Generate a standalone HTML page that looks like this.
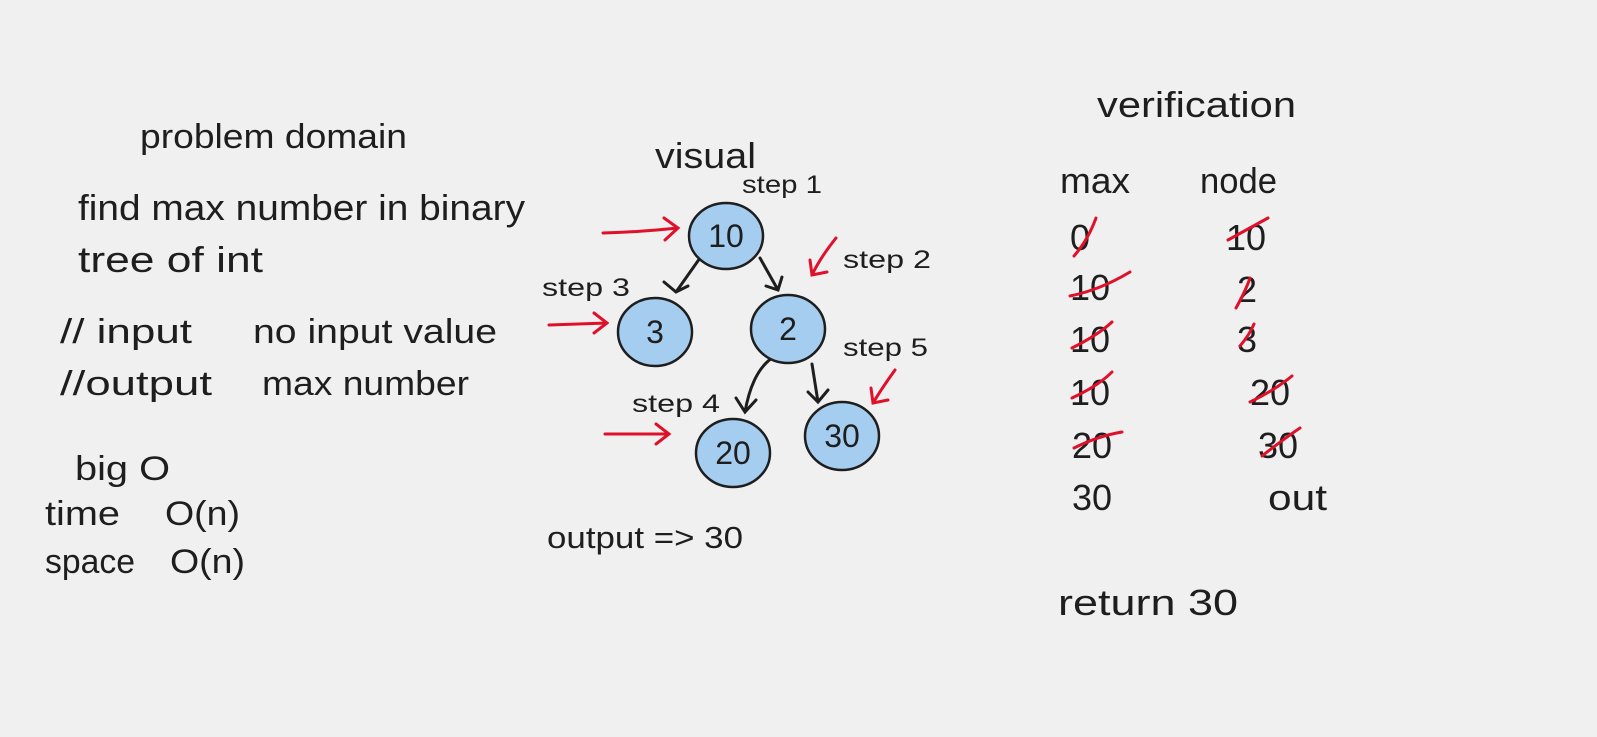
<!DOCTYPE html>
<html><head><meta charset="utf-8"><style>
html,body{margin:0;padding:0;background:#f0f0f0;}
svg{display:block}
text{font-family:"Liberation Sans",sans-serif;fill:#1e1e1e;}
</style></head><body>
<svg width="1597" height="737" viewBox="0 0 1597 737">
<rect width="1597" height="737" fill="#f0f0f0"/>
<g font-size="34" lengthAdjust="spacingAndGlyphs">
<text x="140" y="148" textLength="267" lengthAdjust="spacingAndGlyphs">problem domain</text>
<text x="78" y="220" font-size="36" textLength="447" lengthAdjust="spacingAndGlyphs">find max number in binary</text>
<text x="78" y="272" font-size="36" textLength="185" lengthAdjust="spacingAndGlyphs">tree of int</text>
<text x="60" y="343" textLength="132" lengthAdjust="spacingAndGlyphs">// input</text>
<text x="253" y="343" textLength="244" lengthAdjust="spacingAndGlyphs">no input value</text>
<text x="60" y="395" textLength="152" lengthAdjust="spacingAndGlyphs">//output</text>
<text x="262" y="395" textLength="207" lengthAdjust="spacingAndGlyphs">max number</text>
<text x="75" y="480" textLength="95" lengthAdjust="spacingAndGlyphs">big O</text>
<text x="45" y="525" textLength="75" lengthAdjust="spacingAndGlyphs">time</text>
<text x="165" y="525" textLength="75" lengthAdjust="spacingAndGlyphs">O(n)</text>
<text x="45" y="573" textLength="90" lengthAdjust="spacingAndGlyphs">space</text>
<text x="170" y="573" textLength="75" lengthAdjust="spacingAndGlyphs">O(n)</text>
</g>
<g>
<text x="655" y="168" font-size="36" textLength="101" lengthAdjust="spacingAndGlyphs">visual</text>
<g font-size="25">
<text x="742" y="193" textLength="80" lengthAdjust="spacingAndGlyphs">step 1</text>
<text x="843" y="268" textLength="88" lengthAdjust="spacingAndGlyphs">step 2</text>
<text x="542" y="296" textLength="88" lengthAdjust="spacingAndGlyphs">step 3</text>
<text x="843" y="356" textLength="85" lengthAdjust="spacingAndGlyphs">step 5</text>
<text x="632" y="412" textLength="88" lengthAdjust="spacingAndGlyphs">step 4</text>
</g>
<g stroke="#1e1e1e" stroke-width="3" fill="none" stroke-linecap="round">
<path d="M700 258 L676 292 M664 282 L676 292 L688 286"/>
<path d="M760 258 L778 290 M766 286 L778 290 L782 277"/>
<path d="M772 358 Q752 372 745 412 M736 398 L745 412 L756 400"/>
<path d="M812 364 L818 402 M808 392 L818 402 L828 390"/>
</g>
<g fill="#a5cdf0" stroke="#1e1e1e" stroke-width="2.5">
<ellipse cx="726" cy="236" rx="37" ry="33"/>
<ellipse cx="655" cy="332" rx="37" ry="34"/>
<ellipse cx="788" cy="329" rx="37" ry="34"/>
<ellipse cx="733" cy="453" rx="37" ry="34"/>
<ellipse cx="842" cy="436" rx="37" ry="34"/>
</g>
<g font-size="32" text-anchor="middle">
<text x="726" y="247">10</text>
<text x="655" y="343">3</text>
<text x="788" y="340">2</text>
<text x="733" y="464">20</text>
<text x="842" y="447">30</text>
</g>
<g stroke="#e0102a" stroke-width="3" fill="none" stroke-linecap="round">
<path d="M603 233 Q640 232 678 228 M664 218 L678 228 L665 240"/>
<path d="M836 238 Q820 258 812 275 M810 260 L812 275 L827 272"/>
<path d="M549 325 L607 323 M594 313 L607 323 L594 333"/>
<path d="M605 434 L669 434 M656 424 L669 434 L656 444"/>
<path d="M895 370 Q882 388 873 403 M871 388 L873 403 L888 400"/>
</g>
<text x="547" y="548" font-size="31" textLength="196" lengthAdjust="spacingAndGlyphs">output =&gt; 30</text>
</g>
<g font-size="36">
<text x="1097" y="117" textLength="199" lengthAdjust="spacingAndGlyphs">verification</text>
<text x="1060" y="193" textLength="70" lengthAdjust="spacingAndGlyphs">max</text>
<text x="1200" y="193" textLength="77" lengthAdjust="spacingAndGlyphs">node</text>
<text x="1070" y="250">0</text><text x="1226" y="250">10</text>
<text x="1070" y="300">10</text><text x="1237" y="302">2</text>
<text x="1070" y="352">10</text><text x="1237" y="352">3</text>
<text x="1070" y="405">10</text><text x="1250" y="405">20</text>
<text x="1072" y="458">20</text><text x="1258" y="458">30</text>
<text x="1072" y="510">30</text><text x="1268" y="510" textLength="59" lengthAdjust="spacingAndGlyphs">out</text>
<g stroke="#e0102a" stroke-width="3" fill="none" stroke-linecap="round">
<path d="M1074 256 Q1088 240 1096 218"/><path d="M1228 240 Q1250 228 1268 218"/>
<path d="M1070 296 Q1100 290 1130 272"/><path d="M1236 308 Q1246 290 1250 278"/>
<path d="M1072 348 Q1098 335 1112 322"/><path d="M1240 346 Q1250 334 1254 324"/>
<path d="M1072 398 Q1098 386 1112 372"/><path d="M1250 402 Q1275 390 1292 376"/>
<path d="M1074 448 Q1098 436 1122 432"/><path d="M1262 456 Q1285 438 1300 428"/>
</g>
<text x="1058" y="615" textLength="180" lengthAdjust="spacingAndGlyphs">return 30</text>
</g>
</svg>
</body></html>
